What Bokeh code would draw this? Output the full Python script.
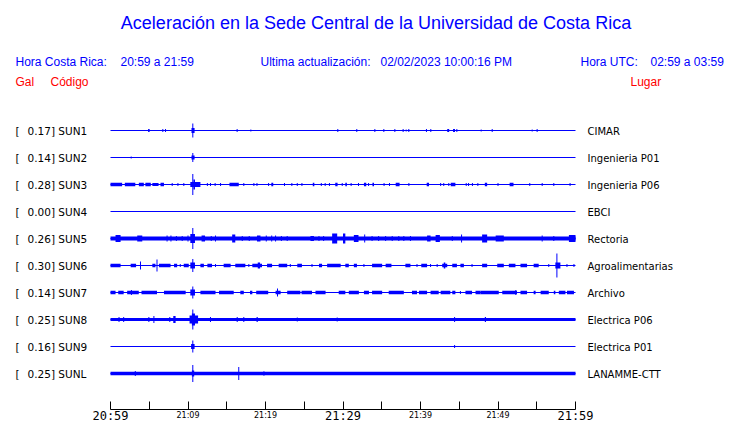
from bokeh.plotting import figure
from bokeh.models import Range1d, FixedTicker
from bokeh.core.properties import value
from bokeh.embed import file_html
from bokeh.resources import INLINE

# ---------------- data ----------------
TITLE = "Aceleración en la Sede Central de la Universidad de Costa Rica"
HORA_CR = "20:59 a 21:59"
ACTUALIZACION = "02/02/2023 10:00:16 PM"
HORA_UTC = "02:59 a 03:59"

codes = ["SUN1", "SUN2", "SUN3", "SUN4", "SUN5", "SUN6", "SUN7", "SUN8", "SUN9", "SUNL"]
places = ["CIMAR", "Ingenieria P01", "Ingenieria P06", "EBCI", "Rectoria",
          "Agroalimentarias", "Archivo", "Electrica P06", "Electrica P01", "LANAMME-CTT"]
peaks_gal = [0.17, 0.14, 0.28, 0.00, 0.26, 0.30, 0.14, 0.25, 0.16, 0.25]

# continuous noise band half-height (px) per station
noise_band = [0, 0, 0, 0, 2.0, 0, 0, 1.6, 0, 1.7]

# minutes after 20:59
tick_minutes = [0, 5, 10, 15, 20, 25, 30, 35, 40, 45, 50, 55, 60]
small_tick_minutes = [10, 20, 40, 50]
small_tick_labels = ["21:09", "21:19", "21:39", "21:49"]
big_tick_minutes = [0, 30, 60]
big_tick_labels = ["20:59", "21:29", "21:59"]

# bursts: (start minute, end minute, half amplitude px); start == end -> single spike
sun1 = [(4.85, 5.05, 1.5), (6.75, 6.75, 1.5), (7.1, 7.1, 1.5), (10.45, 10.85, 2.5), (10.62, 10.62, 7),
        (16.34, 16.34, 1.5), (18.11, 18.11, 1), (29.33, 29.33, 1.5), (31.78, 31.78, 1.5), (34.11, 34.11, 1.5),
        (35.27, 35.27, 1.5), (36.69, 36.69, 1.5), (37.76, 37.76, 1.5), (38.15, 38.15, 1), (38.49, 38.49, 1.5),
        (40.77, 40.77, 1.5), (41.33, 41.33, 1.5), (43.45, 43.7, 1.5), (44.2, 44.45, 1.5), (44.69, 44.69, 1.5),
        (47.83, 47.83, 1), (49.25, 49.25, 1.5), (54.41, 54.41, 1), (55.05, 55.05, 1.5)]
sun2 = [(2.67, 2.67, 1), (10.45, 10.85, 2), (10.62, 10.62, 4.5)]
sun3 = [(0.0, 1.5, 1.8), (1.85, 3.2, 1.8), (3.66, 4.3, 1.8), (4.5, 5.2, 1.8), (5.4, 6.2, 1.5), (6.45, 6.9, 1.8),
        (7.96, 7.96, 1.5), (8.7, 8.7, 1.5), (9.46, 9.46, 1.5), (10.3, 11.6, 2.5), (10.7, 10.9, 5),
        (10.62, 10.62, 10.5), (12.5, 12.5, 1.5), (12.9, 12.9, 1.5), (13.5, 13.5, 1.5), (14.2, 14.2, 1.5),
        (15.35, 16.55, 1.8), (17.2, 17.2, 1.5), (18.5, 18.5, 1.5), (18.9, 18.9, 1.5), (20.4, 20.4, 1.5),
        (20.75, 21.0, 1.8), (22.45, 22.45, 1.5), (23.4, 23.4, 1.5), (24.1, 24.1, 1.5), (24.7, 24.7, 1.5),
        (26.1, 26.3, 1.8), (27.2, 27.2, 1.5), (27.7, 27.7, 1.5), (28.25, 28.25, 1.5), (29.0, 29.3, 1.8),
        (29.9, 29.9, 1.5), (30.3, 30.5, 1.8), (31.05, 31.05, 1.5), (32.0, 32.0, 1.5), (32.7, 33.0, 1.8),
        (33.3, 33.3, 1.5), (33.8, 34.0, 1.8), (35.3, 35.3, 1.5), (36.0, 36.0, 1.5), (36.8, 37.3, 1.8),
        (38.5, 38.5, 1.5), (40.8, 41.1, 1.8), (42.6, 42.6, 1.5), (43.0, 43.0, 1.5), (43.65, 43.65, 1.5),
        (43.9, 44.5, 1.8), (45.9, 45.9, 1.5), (46.2, 46.2, 1.5), (46.7, 46.7, 1.5), (47.4, 47.4, 1.5),
        (48.3, 48.6, 1.8), (50.0, 50.0, 1.5), (51.5, 52.0, 1.8), (54.1, 54.1, 1.5), (55.7, 55.7, 1.5),
        (57.2, 57.2, 1.5), (59.3, 59.3, 1.5)]
sun4 = []
sun5 = [(0.65, 1.3, 3.5), (3.45, 4.1, 3), (7.3, 7.3, 3), (7.8, 7.8, 3), (8.5, 8.5, 2.5), (9.25, 9.25, 2.5),
        (10.0, 10.0, 3), (10.3, 10.9, 4.5), (10.62, 10.62, 10.5), (11.75, 12.2, 3), (13.0, 13.0, 2.5),
        (13.55, 13.55, 3), (15.7, 16.1, 4), (17.0, 17.0, 2.5), (17.9, 17.9, 2.5), (18.9, 19.35, 3),
        (20.1, 20.1, 3), (20.8, 20.8, 3), (21.3, 21.3, 3), (22.05, 22.05, 2.5), (22.8, 22.8, 2.5),
        (25.8, 26.25, 2.5), (26.9, 26.9, 2.5), (27.5, 27.5, 2.5), (28.6, 29.25, 5), (30.0, 30.3, 5),
        (31.4, 32.0, 3.5), (32.8, 32.8, 4), (33.75, 33.75, 2.5), (34.6, 34.6, 2.5), (35.5, 35.5, 2.5),
        (36.35, 36.35, 2.5), (37.2, 37.2, 2.5), (37.85, 37.85, 2.5), (38.7, 38.7, 2.5), (40.85, 41.3, 3),
        (41.95, 42.5, 3.5), (44.1, 44.1, 2.5), (45.3, 45.3, 4), (47.95, 48.6, 4), (49.7, 50.75, 3),
        (55.7, 55.7, 3), (57.2, 57.2, 2.5), (59.15, 60.0, 3.5)]
sun6 = [(0.0, 1.3, 1.8), (2.6, 3.3, 1.8), (3.87, 3.87, 4), (5.4, 5.8, 1.8), (6.0, 6.0, 6), (6.25, 7.75, 1.8),
        (8.2, 8.6, 1.8), (9.0, 9.0, 1.5), (9.45, 10.1, 1.8), (10.3, 10.9, 3), (10.62, 10.62, 6.5),
        (11.6, 12.05, 1.8), (12.5, 13.1, 1.8), (13.55, 13.55, 1.5), (14.6, 15.5, 1.8), (16.1, 17.4, 1.8),
        (17.85, 17.85, 1.5), (18.3, 19.55, 1.8), (19.0, 19.3, 3), (20.2, 20.85, 1.8), (21.7, 22.8, 1.8),
        (23.2, 23.2, 1.5), (24.1, 24.7, 1.8), (26.0, 26.0, 1.5), (26.9, 27.3, 1.8), (27.95, 29.7, 1.8),
        (30.3, 30.75, 1.8), (31.4, 31.8, 1.8), (32.7, 32.7, 1.5), (33.75, 35.05, 1.8), (35.5, 36.25, 1.8),
        (38.05, 38.7, 1.8), (39.55, 39.55, 1.5), (40.1, 40.85, 1.8), (41.3, 41.3, 1.5), (42.15, 42.15, 1.5),
        (42.8, 43.45, 1.8), (43.0, 43.2, 3), (44.1, 44.7, 1.8), (45.15, 45.6, 1.8), (46.65, 46.65, 1.5),
        (47.95, 48.6, 1.8), (49.9, 50.75, 1.8), (51.4, 52.25, 1.8), (52.9, 53.75, 1.8), (54.6, 55.25, 1.8),
        (56.55, 56.55, 1.5), (57.4, 58.05, 3), (57.6, 57.6, 12), (58.9, 58.9, 1.5), (59.8, 59.8, 1.5)]
sun7 = [(0.0, 0.65, 1.8), (1.0, 1.7, 1.8), (2.15, 3.65, 1.8), (2.7, 2.7, 2.5), (4.0, 6.0, 1.8), (6.9, 9.7, 1.8),
        (10.3, 10.9, 3), (10.62, 10.62, 6), (11.6, 13.55, 1.8), (14.0, 15.9, 1.8), (16.75, 17.2, 1.8),
        (18.0, 18.3, 1.8), (18.8, 20.35, 1.8), (21.3, 21.95, 1.8), (21.55, 21.55, 4), (22.8, 24.5, 1.8),
        (24.65, 26.0, 1.8), (26.45, 27.75, 1.8), (29.45, 30.3, 1.8), (30.75, 32.05, 1.8), (32.7, 33.35, 1.8),
        (33.75, 35.05, 1.8), (35.9, 37.85, 1.8), (38.9, 39.55, 1.8), (39.8, 40.85, 1.8), (41.3, 42.35, 1.8),
        (42.6, 43.85, 1.8), (44.1, 44.5, 1.8), (45.15, 45.15, 1.5), (45.8, 46.65, 1.8), (47.1, 47.75, 1.8),
        (47.75, 50.1, 1.8), (50.55, 52.45, 1.8), (52.3, 52.3, 2.5), (52.9, 53.75, 1.8), (54.6, 54.85, 1.8),
        (55.5, 56.55, 1.8), (57.2, 57.4, 1.8), (57.85, 58.7, 1.8), (58.9, 59.8, 1.8)]
sun8 = [(1.1, 1.1, 2.5), (1.7, 1.7, 2.5), (4.95, 4.95, 2.5), (5.6, 5.6, 3.5), (7.65, 7.65, 2.5),
        (8.1, 8.4, 3.5), (10.2, 11.3, 4), (10.5, 10.9, 6), (10.62, 10.62, 10), (12.9, 12.9, 2.5),
        (16.35, 16.35, 2.5), (17.2, 17.2, 2.5), (18.85, 19.0, 2.5), (24.1, 24.1, 2), (29.25, 29.25, 2),
        (44.4, 44.4, 2.5), (48.3, 48.45, 2.5)]
sun9 = [(10.4, 10.85, 2.5), (10.62, 10.62, 6), (44.4, 44.4, 1.5)]
sunl = [(3.2, 3.2, 2.5), (10.5, 10.8, 3), (10.62, 10.62, 8.5), (16.55, 16.55, 6.5), (19.8, 19.8, 2.2)]
bursts = [sun1, sun2, sun3, sun4, sun5, sun6, sun7, sun8, sun9, sunl]

# ---------------- layout helpers (screen px -> data) ----------------
OFFSET = 0          # screen position of the figure origin
W, H = 740, 423
X_ZERO = 110.0      # screen x of minute 0
PX_MIN = 7.75       # px per minute
ROW0 = 130.0        # screen y of first trace
ROW_STEP = 27.0
AXIS_Y = 409        # screen y of the time axis line
BOTTOM_BORDER = 3   # space reserved under the frame
FRAME_BOTTOM = H - BOTTOM_BORDER


def sx(X):
    return (X - X_ZERO) / PX_MIN


def sy(Y):
    return Y - OFFSET


BLUE = "#0000ff"
RED = "#ff0000"

p = figure(width=W, height=H, x_range=Range1d(sx(OFFSET), sx(OFFSET + W)), y_range=Range1d(FRAME_BOTTOM, 0),
           output_backend="svg", toolbar_location=None, y_axis_location=None,
           min_border_left=0, min_border_right=0, min_border_top=0, min_border_bottom=BOTTOM_BORDER)
p.xgrid.visible = False
p.ygrid.visible = False
p.outline_line_color = None
p.background_fill_color = "white"
p.border_fill_color = "white"

# traces
base_x0, base_x1, base_y = [], [], []
band = dict(l=[], r=[], t=[], b=[])
blk = dict(l=[], r=[], t=[], b=[])
spk = dict(x=[], y0=[], y1=[])
for i in range(len(codes)):
    yc = sy(ROW0 + ROW_STEP * i)
    base_x0.append(tick_minutes[0]); base_x1.append(tick_minutes[-1]); base_y.append(yc)
    if noise_band[i] > 0:
        band["l"].append(tick_minutes[0]); band["r"].append(tick_minutes[-1])
        band["t"].append(yc - noise_band[i]); band["b"].append(yc + noise_band[i])
    for (t0, t1, a) in bursts[i]:
        if t1 > t0:
            blk["l"].append(t0); blk["r"].append(t1); blk["t"].append(yc - a); blk["b"].append(yc + a)
        else:
            spk["x"].append(t0); spk["y0"].append(yc - a); spk["y1"].append(yc + a)

p.segment(x0=base_x0, y0=base_y, x1=base_x1, y1=base_y, line_color=BLUE, line_width=1)
p.quad(left=band["l"], right=band["r"], top=band["t"], bottom=band["b"], fill_color=BLUE, line_color=None)
p.quad(left=blk["l"], right=blk["r"], top=blk["t"], bottom=blk["b"], fill_color=BLUE, line_color=None)
p.segment(x0=spk["x"], y0=spk["y0"], x1=spk["x"], y1=spk["y1"], line_color=BLUE, line_width=1)

# row labels
yrows = [sy(ROW0 + 0.5 + ROW_STEP * i) for i in range(len(codes))]
lab_font = value("DejaVu Sans")
p.text(x=[sx(15)] * len(codes), y=yrows, text=["["] * len(codes), text_font=lab_font,
       text_font_size=value("10.5px"), text_baseline="middle", text_align="left", text_color="black")
p.text(x=[sx(27)] * len(codes), y=yrows, text=[f"{v:.2f}] {c}" for v, c in zip(peaks_gal, codes)],
       text_font=lab_font, text_font_size=value("10.5px"), text_baseline="middle", text_align="left",
       text_color="black")
p.text(x=[sx(587)] * len(codes), y=yrows, text=places, text_font=lab_font,
       text_font_size=value("10px"), text_baseline="middle", text_align="left", text_color="black")

# header texts
hf = value("Liberation Sans")
p.text(x=[sx(375.5)], y=[sy(22)], text=[TITLE], text_font=hf, text_font_size=value("18px"),
       text_baseline="middle", text_align="center", text_color=BLUE)
hdr = [("Hora Costa Rica:", 15), (HORA_CR, 120), ("Ultima actualización:", 260), (ACTUALIZACION, 380),
       ("Hora UTC:", 580), (HORA_UTC, 650)]
p.text(x=[sx(X) for _, X in hdr], y=[sy(61)] * len(hdr), text=[t for t, _ in hdr], text_font=hf,
       text_font_size=value("12px"), text_baseline="middle", text_align="left", text_color=BLUE)
red = [("Gal", 15), ("Código", 50), ("Lugar", 630)]
p.text(x=[sx(X) for _, X in red], y=[sy(81)] * len(red), text=[t for t, _ in red], text_font=hf,
       text_font_size=value("12px"), text_baseline="middle", text_align="left", text_color=RED)

# time axis: line and inward ticks, drawn at a fixed data location inside the frame
ax = p.xaxis[0]
ax.fixed_location = sy(AXIS_Y)
ax.ticker = FixedTicker(ticks=tick_minutes)
ax.bounds = (tick_minutes[0], tick_minutes[-1])
ax.major_label_overrides = {m: "" for m in tick_minutes}
ax.major_label_text_font_size = "1px"
ax.major_label_standoff = 0
ax.major_tick_in = 8
ax.major_tick_out = 0
ax.minor_tick_in = 0
ax.minor_tick_out = 0
ax.axis_line_color = "black"
ax.major_tick_line_color = "black"

# tick labels under the axis line (two sizes)
p.text(x=small_tick_minutes, y=[sy(415)] * len(small_tick_minutes), text=small_tick_labels,
       text_font=value("DejaVu Sans"), text_font_size=value("8px"), text_baseline="middle",
       text_align="center", text_color="black")
p.text(x=big_tick_minutes, y=[sy(415.5)] * len(big_tick_minutes), text=big_tick_labels,
       text_font=value("DejaVu Sans Mono"), text_font_size=value("12px"), text_baseline="middle",
       text_align="center", text_color="black")

open("out.html", "w").write(file_html(p, INLINE))
